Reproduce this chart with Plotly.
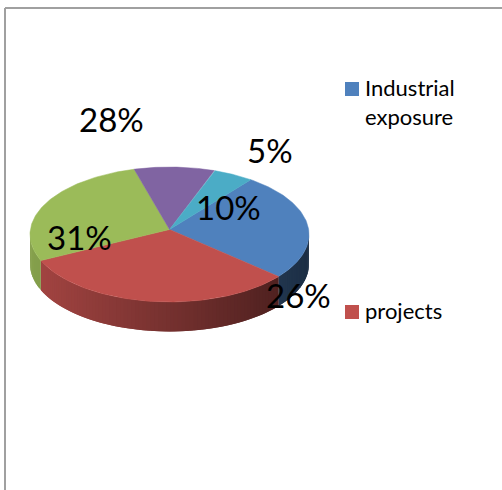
import numpy as np
import plotly.graph_objects as go

# Slice data, in drawing order (clockwise)
categories = ["Industrial exposure", "projects", "Slice 3", "Slice 4", "Slice 5"]
shares = [26, 31, 28, 10, 5]
slice_colors = ["#4f81bd", "#c0504d", "#9bbb59", "#8064a2", "#4bacc6"]
legend_entries = ["Industrial\nexposure", "projects"]

# Disc geometry in page pixels, with a slight perspective so the front looks larger
CX, APEX_Y = 169.5, 229.5
A, B, PERSPECTIVE = 139.1, 67.1, 0.074
DEPTH = 29.5
START_DEG = 38.2

W, H = 502, 490
FONT = "Lato, Carlito, sans-serif"


def rim(deg):
    a = np.radians(deg)
    w = 1 + PERSPECTIVE * np.cos(a)
    return CX + A * np.sin(a) / w, APEX_Y - B * np.cos(a) / w


def shade(hex_color, f):
    r, g, b = (int(hex_color[i:i + 2], 16) for i in (1, 3, 5))
    return f"rgb({r * f:.0f},{g * f:.0f},{b * f:.0f})"


fig = go.Figure()

# Cumulative slice boundaries, clockwise from the top of the disc
edges = START_DEG + np.concatenate([[0], np.cumsum(shares)]) * 3.6
X_LEFT, X_RIGHT = CX - A, CX + A

# Side wall: overlapping strips along the front half, darkening to the right.
# Each strip runs two steps wide so the next one paints over its far half,
# which keeps antialiased seams from showing.
STEP = 1.5
for i, color in enumerate(slice_colors):
    lo, hi = max(edges[i], 90), min(edges[i + 1], 270)
    if hi <= lo:
        continue
    steps = np.append(np.arange(lo, hi, STEP), hi)
    for j in range(len(steps) - 1):
        d0, d1 = steps[j], steps[min(j + 2, len(steps) - 1)]
        segment = np.linspace(d0, d1, 4)
        xs, ys = rim(segment)
        xm = (rim(steps[j])[0] + rim(steps[j + 1])[0]) / 2
        f = 0.86 - 0.50 * (xm - X_LEFT) / (X_RIGHT - X_LEFT)
        fig.add_trace(go.Scatter(
            x=np.concatenate([xs, xs[::-1], xs[:1]]),
            y=np.concatenate([ys, ys[::-1] + DEPTH, ys[:1]]),
            mode="lines", fill="toself", fillcolor=shade(color, f),
            line=dict(width=0),
            hoverinfo="skip", showlegend=False,
        ))

# Top face
for i, color in enumerate(slice_colors):
    degs = np.linspace(edges[i], edges[i + 1], 80)
    xs, ys = rim(degs)
    fig.add_trace(go.Scatter(
        x=np.concatenate([[CX], xs, [CX]]),
        y=np.concatenate([[APEX_Y], ys, [APEX_Y]]),
        mode="lines", fill="toself", fillcolor=color,
        line=dict(color=color, width=0.5),
        hoverinfo="skip", showlegend=False, name=categories[i],
    ))

# Legend swatches
legend_y = [89, 312]
fig.add_trace(go.Scatter(
    x=[352, 352], y=legend_y, mode="markers",
    marker=dict(symbol="square", size=14, color=slice_colors[:2], line=dict(width=0)),
    hoverinfo="skip", showlegend=False,
))

# Percentage labels
label_pos = [(298, 295), (79, 237), (111, 119), (228, 207), (270, 150)]
for v, (x, y) in zip(shares, label_pos):
    fig.add_annotation(x=x, y=y, text=f"{v}%", showarrow=False,
                       font=dict(family=FONT, size=33, color="#000000"))

# Legend text
fig.add_annotation(x=363, y=102, xanchor="left", yanchor="middle", align="left",
                   text=legend_entries[0].replace("\n", "<br>"), showarrow=False,
                   font=dict(family=FONT, size=22, color="#000000"))
fig.add_annotation(x=363, y=310, xanchor="left", yanchor="middle",
                   text=legend_entries[1], showarrow=False,
                   font=dict(family=FONT, size=22, color="#000000"))

# Chart frame, top and left edges
frame = dict(type="line", line=dict(color="#a0a0a0", width=2), xref="x", yref="y")
fig.add_shape(x0=5, x1=5, y0=8, y1=490, **frame)
fig.add_shape(x0=5, x1=502, y0=8, y1=8, **frame)

fig.update_layout(
    width=W, height=H, margin=dict(l=0, r=0, t=0, b=0),
    paper_bgcolor="white", plot_bgcolor="white", showlegend=False,
    xaxis=dict(range=[0, W], visible=False, fixedrange=True),
    yaxis=dict(range=[H, 0], visible=False, fixedrange=True),
)

fig.write_html("out.html", config={"displayModeBar": False})
